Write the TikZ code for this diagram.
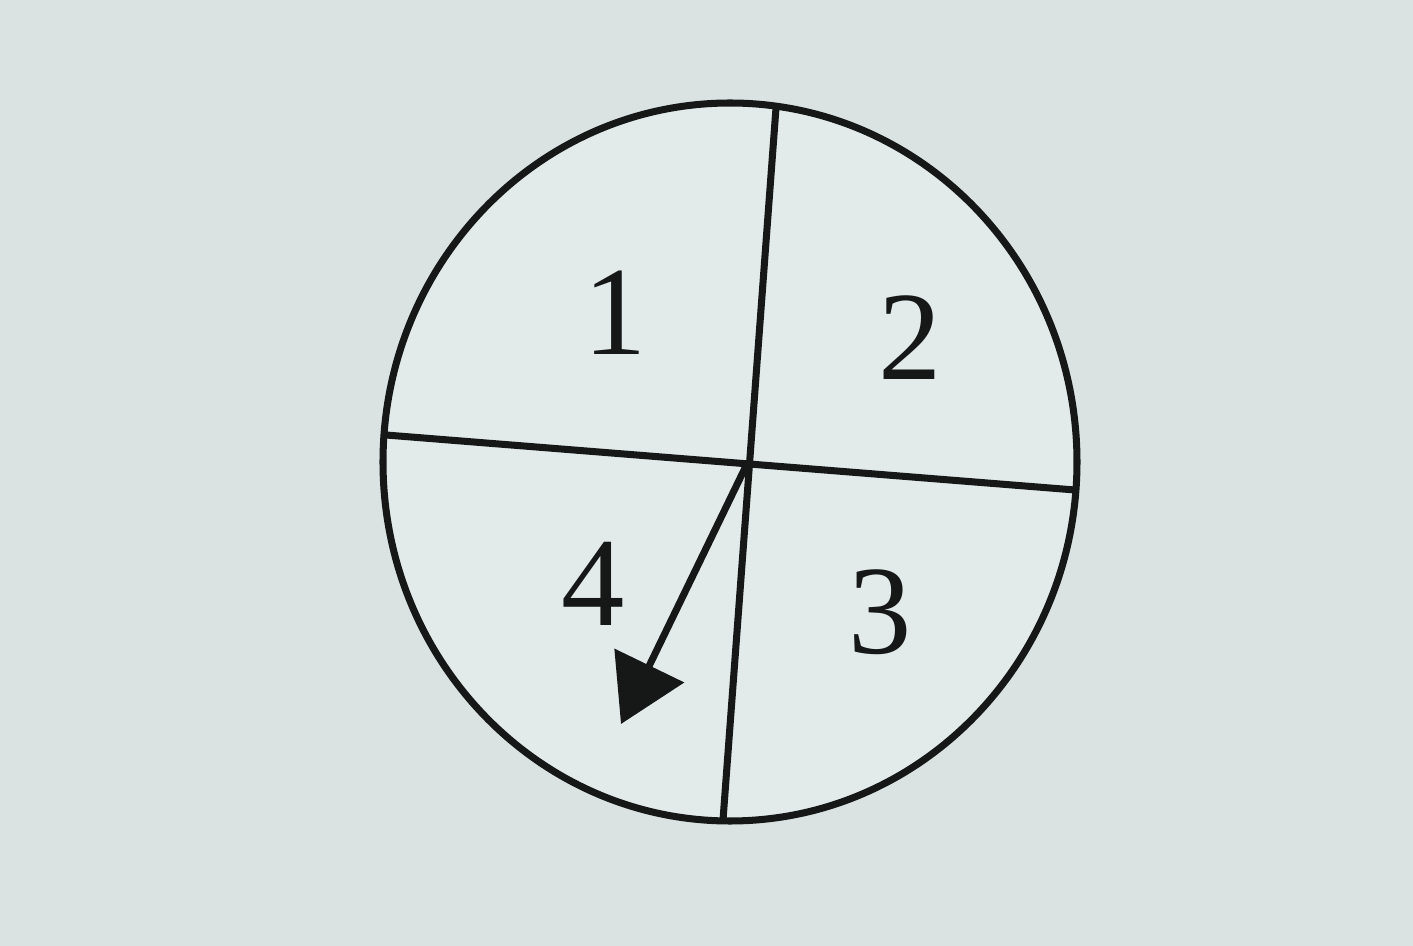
\documentclass[tikz,border=0pt]{standalone}
\usepackage{fontspec}
\setmainfont{Liberation Serif}
\usetikzlibrary{arrows.meta}
\definecolor{paper}{RGB}{218,226,226}
\definecolor{face}{RGB}{227,234,234}
\definecolor{ink}{RGB}{22,24,24}

\begin{document}
\begin{tikzpicture}[
  rim/.style={draw=ink, line width=2pt, fill=face},
  divider/.style={draw=ink, line width=2pt},
  pointer/.style={draw=ink, line width=2pt, -{Triangle[length=6.5mm, width=7.6mm]}},
  num/.style={font=\fontsize{36}{40}\selectfont, text=ink, inner sep=0pt},
]

% === BACKGROUND ===
\fill[paper] (0,0) rectangle (14.13,9.46);
\useasboundingbox (0,0) rectangle (14.13,9.46);

% === SPINNER ===
\draw[rim] (7.30,4.84) ellipse [x radius=3.47cm, y radius=3.59cm];

\coordinate (top) at (7.76,8.38);
\coordinate (bot) at (7.23,1.26);
\coordinate (lft) at (3.86,5.11);
\coordinate (rgt) at (10.75,4.56);
\coordinate (hub) at (7.46,4.80);
\coordinate (tip) at (6.21,2.22);

\draw[divider] (top) -- (bot);
\draw[divider] (lft) -- (rgt);
\draw[pointer] (hub) -- (tip);

\node[num] (n1) at (6.15,6.33) {1};
\node[num] (n2) at (9.10,6.08) {2};
\node[num] (n3) at (8.80,3.34) {3};
\node[num] (n4) at (5.93,3.62) {4};
\end{tikzpicture}
\end{document}
